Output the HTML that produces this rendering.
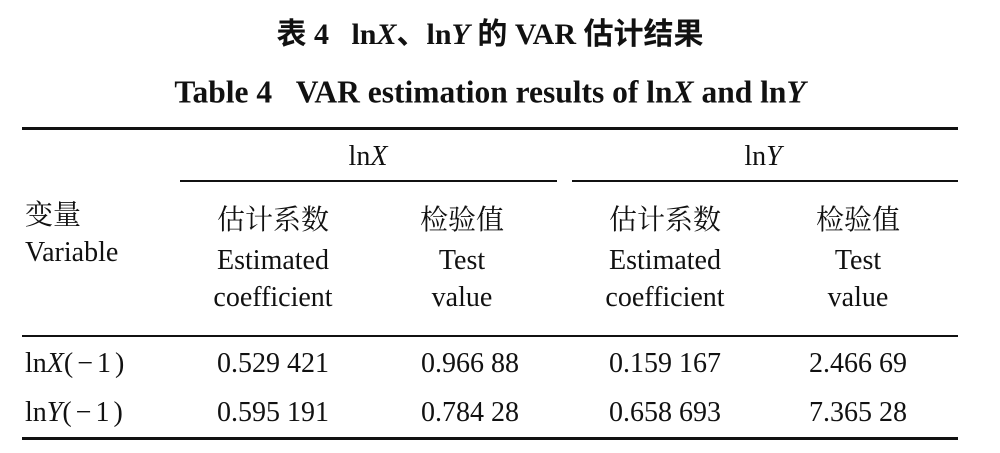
<!DOCTYPE html>
<html><head><meta charset="utf-8">
<style>
html,body{margin:0;padding:0;background:#fff;}
#root{position:relative;width:1000px;height:453px;overflow:hidden;font-family:"Liberation Serif","Noto Serif CJK SC",serif;color:#111;}
.t{position:absolute;white-space:nowrap;transform:translate(-50%,-50%);font-size:28px;line-height:1;}
.l{position:absolute;white-space:nowrap;transform:translateY(-50%);font-size:28px;line-height:1;}
.b{font-weight:bold;}
.r{position:absolute;background:#111;}
i{font-style:italic;}
.p{letter-spacing:4px;}
</style></head>
<body>
<div id="root">
<div class="t b" style="left:490px;top:35px;font-size:30px;font-family:'Liberation Serif','Noto Sans CJK SC',sans-serif;">表 4&nbsp;&nbsp;&nbsp;ln<i>X</i>、ln<i>Y</i> 的 VAR 估计结果</div>
<div class="t b" style="left:490px;top:92px;font-size:31.5px;">Table 4&nbsp;&nbsp;&nbsp;VAR estimation results of ln<i>X</i> and ln<i>Y</i></div>

<div class="r" style="left:22px;top:127px;width:936px;height:3px;"></div>
<div class="t" style="left:368px;top:157px;">ln<i>X</i></div>
<div class="t" style="left:763px;top:157px;">ln<i>Y</i></div>
<div class="r" style="left:180px;top:180px;width:377px;height:1.5px;"></div>
<div class="r" style="left:572px;top:180px;width:386px;height:1.5px;"></div>

<div class="l" style="left:25px;top:216px;">变量</div>
<div class="l" style="left:25px;top:253px;">Variable</div>

<div class="t" style="left:273px;top:221px;">估计系数</div>
<div class="t" style="left:273px;top:261px;">Estimated</div>
<div class="t" style="left:273px;top:298px;">coefficient</div>
<div class="t" style="left:462px;top:221px;">检验值</div>
<div class="t" style="left:462px;top:261px;">Test</div>
<div class="t" style="left:462px;top:298px;">value</div>
<div class="t" style="left:665px;top:221px;">估计系数</div>
<div class="t" style="left:665px;top:261px;">Estimated</div>
<div class="t" style="left:665px;top:298px;">coefficient</div>
<div class="t" style="left:858px;top:221px;">检验值</div>
<div class="t" style="left:858px;top:261px;">Test</div>
<div class="t" style="left:858px;top:298px;">value</div>

<div class="r" style="left:22px;top:335px;width:936px;height:1.5px;"></div>

<div class="l" style="left:25px;top:364px;">ln<i>X</i><span class="p">(−1)</span></div>
<div class="t" style="left:273px;top:364px;">0.529 421</div>
<div class="t" style="left:470px;top:364px;">0.966 88</div>
<div class="t" style="left:665px;top:364px;">0.159 167</div>
<div class="t" style="left:858px;top:364px;">2.466 69</div>

<div class="l" style="left:25px;top:413px;">ln<i>Y</i><span class="p">(−1)</span></div>
<div class="t" style="left:273px;top:413px;">0.595 191</div>
<div class="t" style="left:470px;top:413px;">0.784 28</div>
<div class="t" style="left:665px;top:413px;">0.658 693</div>
<div class="t" style="left:858px;top:413px;">7.365 28</div>

<div class="r" style="left:22px;top:437px;width:936px;height:3px;"></div>
</div>
</body></html>
